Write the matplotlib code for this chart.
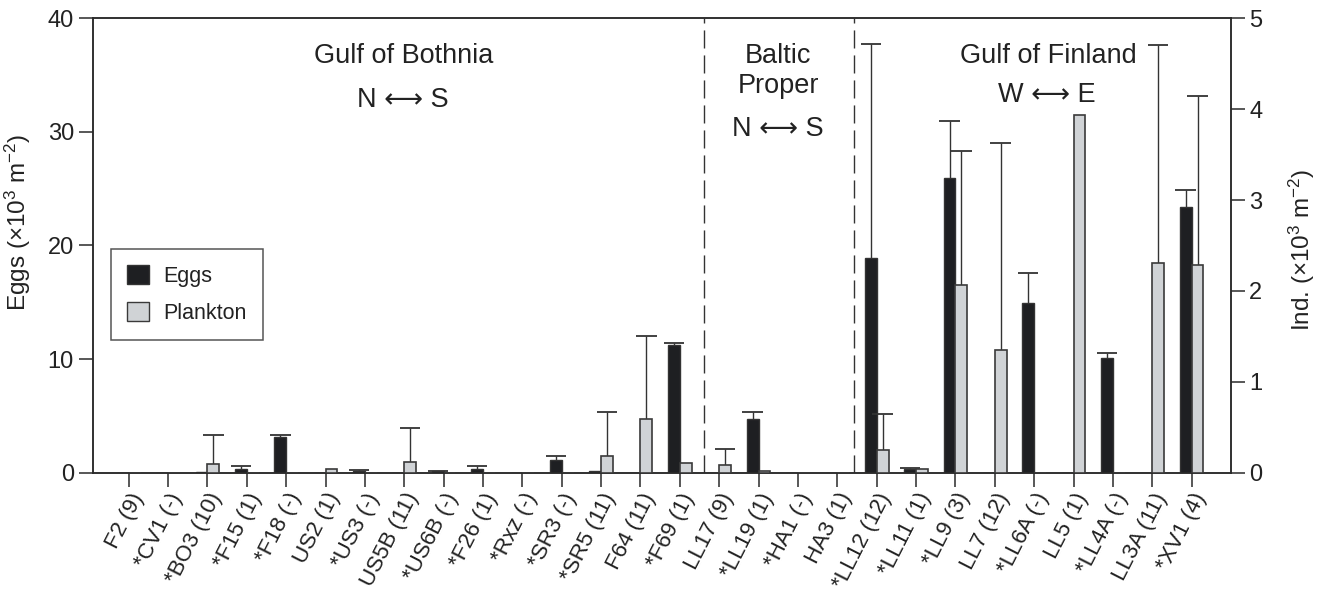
import numpy as np
import matplotlib
matplotlib.use("Agg")
import matplotlib.pyplot as plt
from matplotlib.patches import Patch

plt.rcParams['font.family'] = ['Liberation Sans', 'DejaVu Sans']
plt.rcParams['mathtext.fontset'] = 'custom'
plt.rcParams['mathtext.rm'] = 'Liberation Sans'
plt.rcParams['mathtext.it'] = 'Liberation Sans:italic'

# stations (number of samples in brackets), * = egg sampling site
stations = ['F2 (9)', '*CV1 (-)', '*BO3 (10)', '*F15 (1)', '*F18 (-)', 'US2 (1)',
            '*US3 (-)', 'US5B (11)', '*US6B (-)', '*F26 (1)', '*Rxz (-)', '*SR3 (-)',
            '*SR5 (11)', 'F64 (11)', '*F69 (1)', 'LL17 (9)', '*LL19 (1)', '*HA1 (-)',
            'HA3 (1)', '*LL12 (12)', '*LL11 (1)', '*LL9 (3)', 'LL7 (12)', '*LL6A (-)',
            'LL5 (1)', '*LL4A (-)', 'LL3A (11)', '*XV1 (4)']

# eggs, x10^3 m-2 (left axis)
eggs = [0, 0, 0.08, 0.29, 3.17, 0, 0.12, 0, 0.12, 0.29, 0, 1.09, 0.15, 0, 11.24,
        0, 4.69, 0, 0, 18.87, 0.35, 25.97, 0, 14.91, 0, 10.12, 0, 23.36]
eggs_sd = [0, 0, 0, 0.27, 0.17, 0, 0.14, 0, 0.05, 0.27, 0, 0.41, 0, 0, 0.2,
           0, 0.65, 0, 0, 18.83, 0.06, 5.03, 0, 2.69, 0, 0.38, 0, 1.54]

# plankton individuals, x10^3 m-2 (right axis)
plankton = [0, 0, 0.10, 0, 0, 0.037, 0, 0.121, 0, 0, 0, 0, 0.18, 0.587, 0.103,
            0.084, 0.02, 0, 0, 0.245, 0.037, 2.06, 1.35, 0, 3.94, 0, 2.31, 2.28]
plankton_sd = [0, 0, 0.32, 0, 0, 0, 0, 0.374, 0, 0, 0, 0, 0.49, 0.92, 0,
               0.18, 0, 0, 0, 0.40, 0, 1.48, 2.28, 0, 0, 0, 2.40, 1.87]

regions = ['Gulf of Bothnia', 'Baltic', 'Proper', 'Gulf of Finland']

x = np.arange(len(stations))
eggs = np.array(eggs)
eggs_sd = np.array(eggs_sd)
plankton = np.array(plankton)
plankton_sd = np.array(plankton_sd)

w = 0.3
cap = 0.26
dark = '#1e1f22'
light = '#d0d3d6'
edge = '#333333'
txt = '#222222'

fig = plt.figure(figsize=(13.22, 5.91), dpi=100)
ax = fig.add_axes([93.3 / 1322, 1 - 472.7 / 591, 1137.7 / 1322, 454.4 / 591])
ax2 = ax.twinx()

ax.bar(x - w / 2, eggs, w, color=dark, edgecolor=edge, linewidth=1, zorder=3)
ax2.bar(x + w / 2, plankton, w, color=light, edgecolor='#3a3a3a', linewidth=1.2, zorder=3)

# one-sided error bars (upper only)
m = eggs_sd > 0
ax.vlines(x[m] - w / 2, eggs[m], eggs[m] + eggs_sd[m], color=edge, lw=1, zorder=2)
ax.hlines(eggs[m] + eggs_sd[m], x[m] - w / 2 - cap, x[m] - w / 2 + cap, color=edge, lw=1.3, zorder=2)
m = plankton_sd > 0
ax2.vlines(x[m] + w / 2, plankton[m], plankton[m] + plankton_sd[m], color=edge, lw=1, zorder=2)
ax2.hlines(plankton[m] + plankton_sd[m], x[m] + w / 2 - cap, x[m] + w / 2 + cap, color=edge, lw=1.3, zorder=2)

# region boundaries
for xv in (14.62, 18.42):
    ax.axvline(xv, color=edge, lw=1, ls=(0, (13, 5)), zorder=1)

ax.set_xlim(-0.9, 28)
ax.set_ylim(0, 40)
ax2.set_ylim(0, 5)
ax.set_yticks([0, 10, 20, 30, 40])
ax2.set_yticks([0, 1, 2, 3, 4, 5])
ax.set_xticks(x)
ax.set_xticklabels(stations, rotation=63, ha='right', va='top', rotation_mode='anchor',
                   fontsize=16, color=txt)

for a in (ax, ax2):
    for s in a.spines.values():
        s.set_linewidth(1.1)
        s.set_color('#2a2a2a')
ax.tick_params(axis='x', length=10, width=1.1, color='#2a2a2a', pad=2)
ax.tick_params(axis='y', length=10, width=1.1, labelsize=17, pad=4, color='#2a2a2a', labelcolor=txt)
ax2.tick_params(axis='y', length=10, width=1.1, labelsize=17, pad=3, color='#2a2a2a', labelcolor=txt)

ax.set_ylabel('Eggs (×10$^{3}$ m$^{-2}$)', fontsize=17.5, color=txt)
ax2.set_ylabel('Ind. (×10$^{3}$ m$^{-2}$)', fontsize=17.5, color=txt)
ax.yaxis.set_label_coords(-0.053, 0.55)
ax2.yaxis.set_label_coords(1.049, 0.49)

tf = ax.transAxes
fs = 19.5
ax.text(0.273, 0.9023, regions[0], transform=tf, ha='center', va='baseline', fontsize=fs, color=txt)
ax.text(0.272, 0.8055, 'N ⟷ S', transform=tf, ha='center', va='baseline', fontsize=fs, color=txt)
ax.text(0.602, 0.9023, regions[1], transform=tf, ha='center', va='baseline', fontsize=fs, color=txt)
ax.text(0.602, 0.835, regions[2], transform=tf, ha='center', va='baseline', fontsize=fs, color=txt)
ax.text(0.602, 0.741, 'N ⟷ S', transform=tf, ha='center', va='baseline', fontsize=fs, color=txt)
ax.text(0.8394, 0.9023, regions[3], transform=tf, ha='center', va='baseline', fontsize=fs, color=txt)
ax.text(0.8383, 0.8164, 'W ⟷ E', transform=tf, ha='center', va='baseline', fontsize=fs, color=txt)

handles = [Patch(facecolor=dark, edgecolor=edge, label='Eggs'),
           Patch(facecolor=light, edgecolor='#3a3a3a', label='Plankton')]
leg = ax.legend(handles=handles, loc='upper left', bbox_to_anchor=(0.0153, 0.4923),
                borderaxespad=0, fontsize=15.5, frameon=True, fancybox=False,
                handlelength=1.05, handleheight=1.0, handletextpad=0.65,
                labelspacing=0.7, borderpad=0.75, labelcolor=txt)
leg.get_frame().set_edgecolor('#2a2a2a')
leg.get_frame().set_linewidth(1.1)

fig.savefig('out.png', dpi=100)
